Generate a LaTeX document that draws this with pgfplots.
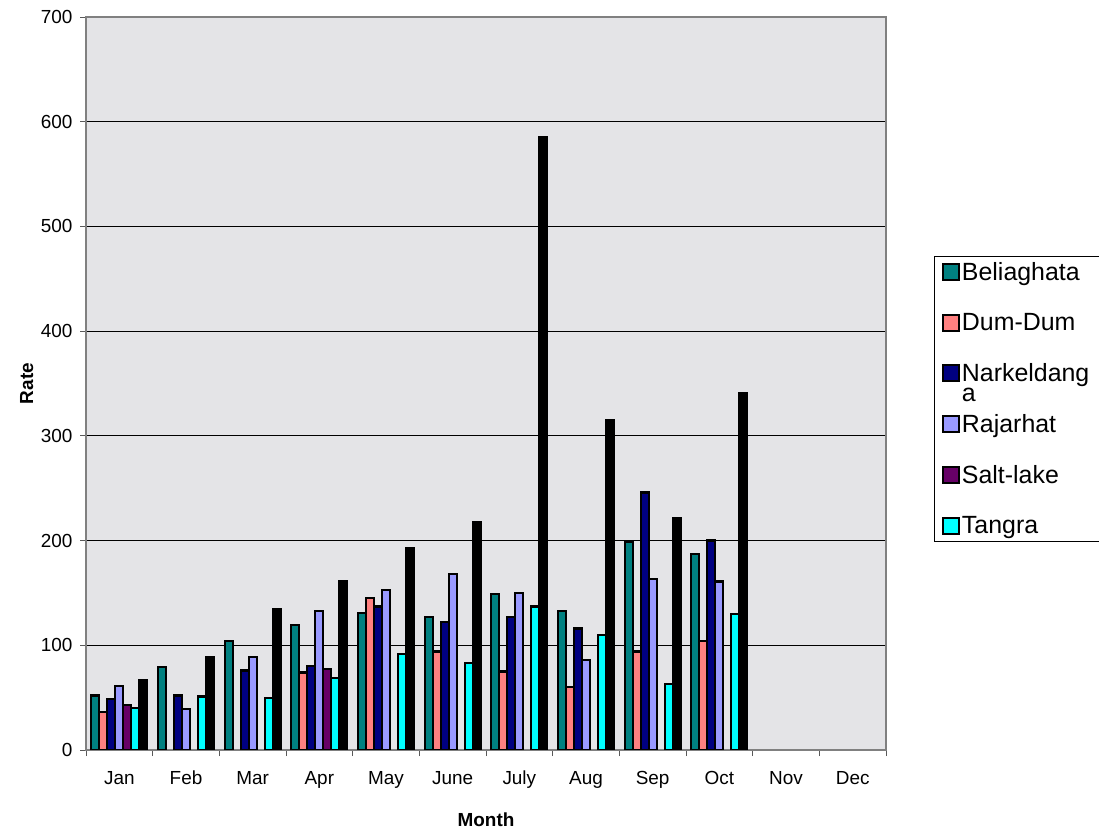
\documentclass[border=0pt]{standalone}
\usepackage{fontspec}
\setmainfont{Liberation Sans}
\usepackage{pgfplots}
\pgfplotsset{compat=1.18}

\definecolor{cBel}{RGB}{0,128,128}
\definecolor{cDum}{RGB}{255,128,128}
\definecolor{cNar}{RGB}{0,0,128}
\definecolor{cRaj}{RGB}{153,153,255}
\definecolor{cSal}{RGB}{102,0,102}
\definecolor{cTan}{RGB}{0,255,255}
\definecolor{marble}{RGB}{228,228,231}

\pgfplotsset{bb/.style={draw=black, line width=2.2bp}}

\begin{document}
\begin{tikzpicture}
\path[use as bounding box] (0,0) rectangle (1099bp,830bp);
\begin{axis}[
  at={(86bp,80bp)}, anchor=south west,
  scale only axis,
  width=800bp, height=733bp,
  ybar=0pt, bar width=8bp,
  xmin=0.5, xmax=12.5,
  ymin=0, ymax=700,
  ytick={0,100,...,700},
  xtick={1,...,12},
  xticklabels={Jan,Feb,Mar,Apr,May,June,July,Aug,Sep,Oct,Nov,Dec},
  minor xtick={0.5,1.5,...,12.5},
  major x tick style={draw=none},
  tick align=outside,
  xtick pos=bottom, ytick pos=left,
  major tick length=6bp, minor tick length=6bp,
  tick style={gray!70!black, line width=1bp},
  axis line style={gray, line width=1.5bp},
  axis background/.style={fill=marble},
  ymajorgrids,
  major grid style={black, line width=0.8bp},
  /pgf/number format/assume math mode=true,
  ticklabel style={font=\fontsize{19}{22}\selectfont},
  xticklabel style={text height=14bp, text depth=4bp, yshift=-11bp},
  yticklabel style={xshift=-4bp},
  xlabel={\textbf{Month}}, ylabel={\textbf{Rate}},
  label style={font=\fontsize{19}{22}\selectfont},
  xlabel style={at={(axis description cs:0.5,-0.0955)}, anchor=center},
  ylabel style={at={(axis description cs:-0.074,0.5)}, anchor=center, rotate=0},
  every axis plot post/.append style={
    legend image code/.code={\draw[##1,draw=black,line width=2bp] (0bp,-8bp) rectangle (16bp,8bp);}},
  legend style={at={(axis description cs:1.0595,0.674)}, anchor=north west,
    draw=black, line width=0.8bp, fill=white,
    font=\fontsize{25}{27}\selectfont,
    inner xsep=8bp, inner ysep=4bp,
    row sep=27.5bp,
    cells={anchor=west}},
]
% Beliaghata
\addplot[fill=cBel, bb] coordinates {(1,52) (2,79) (3,104) (4,119) (5,131) (6,127) (7,149) (8,133) (9,199) (10,187)};
% Dum-Dum
\addplot[fill=cDum, bb] coordinates {(1,36) (4,74) (5,145) (6,94) (7,75) (8,60) (9,94) (10,104)};
% Narkeldanga
\addplot[fill=cNar, bb] coordinates {(1,49) (2,52) (3,76) (4,80) (5,137) (6,122) (7,127) (8,116) (9,246) (10,200)};
% Rajarhat
\addplot[fill=cRaj, bb] coordinates {(1,61) (2,39) (3,89) (4,133) (5,153) (6,168) (7,150) (8,86) (9,163) (10,161)};
% Salt-lake
\addplot[fill=cSal, bb] coordinates {(1,43) (4,77)};
% Tangra
\addplot[fill=cTan, bb] coordinates {(1,40) (2,51) (3,50) (4,69) (5,92) (6,83) (7,137) (8,110) (9,63) (10,130)};
% seventh series (legend entry not visible)
\addplot[fill=black, bb] coordinates {(1,67) (2,89) (3,135) (4,161) (5,193) (6,218) (7,585) (8,315) (9,221) (10,341)};
\legend{Beliaghata,Dum-Dum,{\makebox[0pt][l]{\raisebox{-20bp}{\smash{a}}}Narkeldang},Rajarhat,Salt-lake,Tangra}
\end{axis}
\end{tikzpicture}
\end{document}
